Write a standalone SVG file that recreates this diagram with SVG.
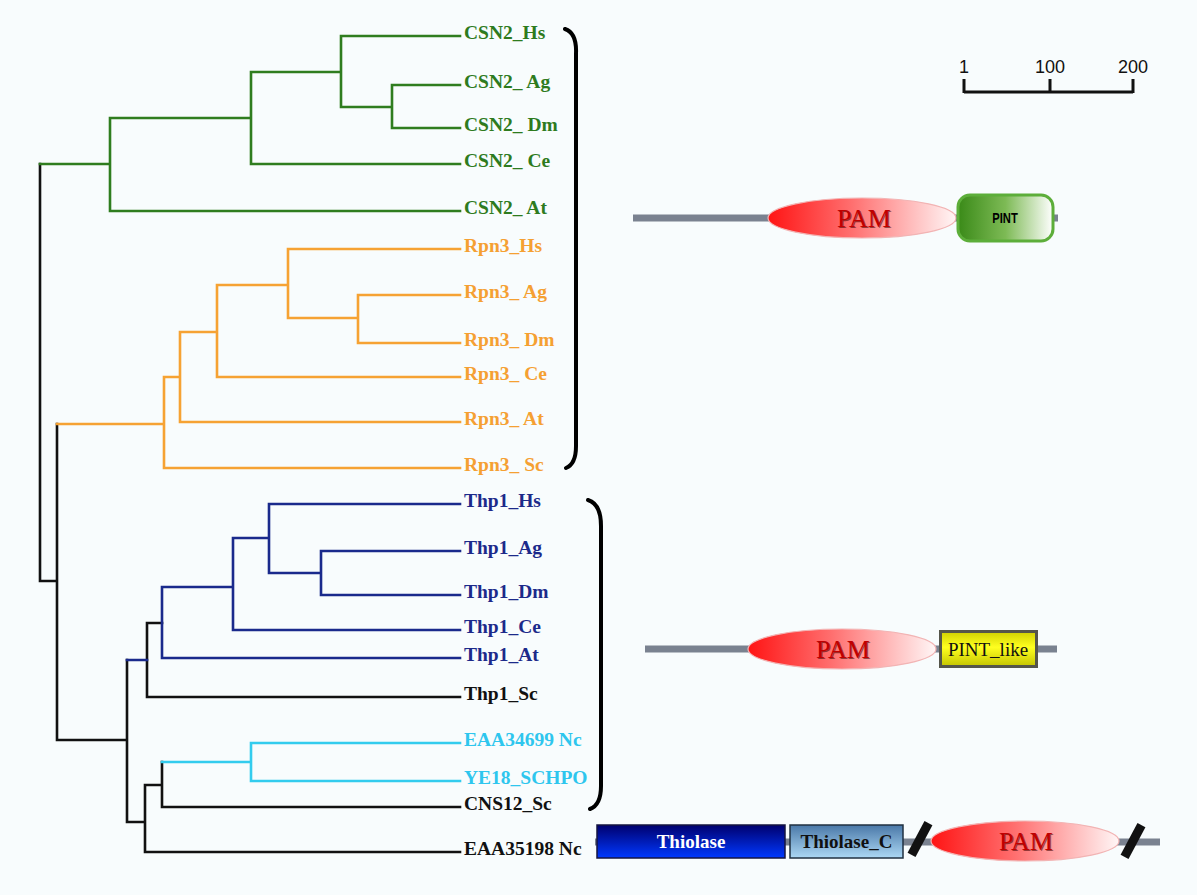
<svg xmlns="http://www.w3.org/2000/svg" width="1197" height="895" viewBox="0 0 1197 895">
<defs>
<style>
.lbl{font-family:"Liberation Serif","Times New Roman",serif;font-weight:bold;font-size:19.5px}
.g{fill:#2E7B1E}.o{fill:#F5A032}.b{fill:#1C2A8A}.c{fill:#2EC6EE}.k{fill:#111}
.t{fill:none;stroke-width:2.6;stroke-linecap:square}
.tg{stroke:#2F7D1F}.to{stroke:#F6A233}.tb{stroke:#1A2A8C}.tc{stroke:#33CCEE}.tk{stroke:#111}
.br{fill:none;stroke:#000;stroke-width:4;stroke-linecap:round}
.bar{fill:#7A8290}
.pam{stroke:#F2B4B4;stroke-width:1.2;fill:url(#pamG)}
.pamt{font-family:"Liberation Serif","Times New Roman",serif;font-size:26px;fill:#C00000;text-anchor:middle}
.pams{font-family:"Liberation Serif","Times New Roman",serif;font-size:26px;fill:#400000;opacity:0.55;text-anchor:middle}
.scl{font-family:"Liberation Sans",Arial,sans-serif;font-size:18px;fill:#111;text-anchor:middle}
.slash{fill:#111}
</style>
<linearGradient id="pamG" x1="0" y1="0" x2="1" y2="0">
<stop offset="0" stop-color="#FF1414"/><stop offset="0.45" stop-color="#FF7070"/><stop offset="1" stop-color="#FFF6F6"/>
</linearGradient>
<linearGradient id="pintG" x1="0" y1="0" x2="1" y2="0">
<stop offset="0" stop-color="#3A8A18"/><stop offset="0.5" stop-color="#7DBA55"/><stop offset="1" stop-color="#FFFFFF"/>
</linearGradient>
<linearGradient id="yelG" x1="0" y1="0" x2="0" y2="1">
<stop offset="0" stop-color="#CFCF00"/><stop offset="0.45" stop-color="#FFFF20"/><stop offset="1" stop-color="#C4C400"/>
</linearGradient>
<linearGradient id="thG" x1="0" y1="0" x2="0" y2="1">
<stop offset="0" stop-color="#00006E"/><stop offset="1" stop-color="#0038FF"/>
</linearGradient>
<linearGradient id="thcG" x1="0" y1="0" x2="0" y2="1">
<stop offset="0" stop-color="#4A78A8"/><stop offset="1" stop-color="#ACD8F4"/>
</linearGradient>
</defs>
<rect width="1197" height="895" fill="#F8FCFD"/>

<g id="connectors">
<path class="t tk" d="M40 164 V581 H57 M57 424 V740 H127 M127 660 V822 H145 M145 785 V852 H460 M145 785 H162 M162 762 V807 H460 M147 623 V697 H460 M147 623 H162"/>
<path class="t tg" d="M40 164 H110 M110 118 V211 H460 M110 118 H251 M251 72 V164 H460 M251 72 H341 M341 36 V107 M341 36 H460 M341 107 H392 M392 85 V128 M392 85 H460 M392 128 H460"/>
<path class="t to" d="M57 424 H164 M164 377 V468 H460 M164 377 H180 M180 332 V422 H460 M180 332 H217 M217 285 V377 H460 M217 285 H288 M288 249 V318 M288 249 H460 M288 318 H358 M358 295 V343 M358 295 H460 M358 343 H460"/>
<path class="t tb" d="M127 660 H147 M162 587 V658 H460 M162 587 H233 M233 538 V630 H460 M233 538 H269 M269 504 V573 M269 504 H460 M269 573 H321 M321 551 V595 M321 551 H460 M321 595 H460"/>
<path class="t tc" d="M162 762 H251 M251 743 V781 M251 743 H460 M251 781 H460"/>
</g>

<g id="labels">
<text id="n-csn2-hs" class="lbl g" x="464" y="39">CSN2_Hs</text>
<text id="n-csn2-ag" class="lbl g" x="464" y="88">CSN2_ Ag</text>
<text id="n-csn2-dm" class="lbl g" x="464" y="131">CSN2_ Dm</text>
<text id="n-csn2-ce" class="lbl g" x="464" y="167">CSN2_ Ce</text>
<text id="n-csn2-at" class="lbl g" x="464" y="214">CSN2_ At</text>
<text id="n-rpn3-hs" class="lbl o" x="464" y="252">Rpn3_Hs</text>
<text id="n-rpn3-ag" class="lbl o" x="464" y="298">Rpn3_ Ag</text>
<text id="n-rpn3-dm" class="lbl o" x="464" y="346">Rpn3_ Dm</text>
<text id="n-rpn3-ce" class="lbl o" x="464" y="380">Rpn3_ Ce</text>
<text id="n-rpn3-at" class="lbl o" x="464" y="425">Rpn3_ At</text>
<text id="n-rpn3-sc" class="lbl o" x="464" y="471">Rpn3_ Sc</text>
<text id="n-thp1-hs" class="lbl b" x="464" y="507">Thp1_Hs</text>
<text id="n-thp1-ag" class="lbl b" x="464" y="554">Thp1_Ag</text>
<text id="n-thp1-dm" class="lbl b" x="464" y="598">Thp1_Dm</text>
<text id="n-thp1-ce" class="lbl b" x="464" y="633">Thp1_Ce</text>
<text id="n-thp1-at" class="lbl b" x="464" y="661">Thp1_At</text>
<text id="n-thp1-sc" class="lbl k" x="464" y="700">Thp1_Sc</text>
<text id="n-eaa34699" class="lbl c" x="464" y="746">EAA34699 Nc</text>
<text id="n-ye18" class="lbl c" x="464" y="784">YE18_SCHPO</text>
<text id="n-cns12" class="lbl k" x="464" y="810">CNS12_Sc</text>
<text id="n-eaa35198" class="lbl k" x="464" y="855">EAA35198 Nc</text>
</g>

<g id="brackets">
<path class="br" d="M565 29 Q577 33 576 54 V446 Q576 464 566 468"/>
<path class="br" d="M588 500 Q601 504 601 526 V786 Q601 805 590 809"/>
</g>

<g id="scale">
<path d="M964 92 H1133 M964 79 V93 M1050 79 V93 M1133 79 V93" fill="none" stroke="#111" stroke-width="3"/>
<text class="scl" x="964" y="73">1</text>
<text class="scl" x="1050" y="73">100</text>
<text class="scl" x="1133" y="73">200</text>
</g>

<g id="domain-csn2">
<rect class="bar" x="633" y="214.5" width="425" height="7"/>
<ellipse class="pam" cx="862" cy="218" rx="94" ry="20"/>
<text class="pams" x="865" y="228">PAM</text>
<text class="pamt" x="864" y="227">PAM</text>
<rect x="958" y="195" width="95" height="46" rx="12" fill="url(#pintG)" stroke="#5DAE3A" stroke-width="3"/>
<text transform="translate(1005 223) scale(0.8 1)" font-family="Liberation Sans,Arial,sans-serif" font-size="14" font-weight="bold" fill="#000" text-anchor="middle">PINT</text>
</g>

<g id="domain-thp1">
<rect class="bar" x="645" y="645.5" width="412" height="7"/>
<ellipse class="pam" cx="842" cy="649" rx="94" ry="20"/>
<text class="pams" x="844" y="659">PAM</text>
<text class="pamt" x="843" y="658">PAM</text>
<rect x="940.5" y="631.5" width="96" height="35" fill="url(#yelG)" stroke="#55554A" stroke-width="3"/>
<text x="988" y="656" font-family="Liberation Serif,Times New Roman,serif" font-size="19" fill="#111" text-anchor="middle">PINT_like</text>
</g>

<g id="domain-eaa35198">
<rect class="bar" x="595" y="838.5" width="565" height="7"/>
<rect x="597" y="825" width="188" height="33" fill="url(#thG)" stroke="#141440" stroke-width="1.5"/>
<text x="691" y="848" font-family="Liberation Serif,Times New Roman,serif" font-size="19" font-weight="bold" fill="#fff" text-anchor="middle">Thiolase</text>
<rect x="790" y="825" width="113" height="33" fill="url(#thcG)" stroke="#203040" stroke-width="1.5"/>
<text x="846.5" y="848" font-family="Liberation Serif,Times New Roman,serif" font-size="19" font-weight="bold" fill="#111" text-anchor="middle">Thiolase_C</text>
<rect class="slash" x="-4.5" y="-18" width="9" height="36" transform="translate(920 839) rotate(28)"/>
<ellipse class="pam" cx="1025" cy="841" rx="94" ry="20"/>
<text class="pams" x="1027" y="851">PAM</text>
<text class="pamt" x="1026" y="850">PAM</text>
<rect class="slash" x="-4.5" y="-18" width="9" height="36" transform="translate(1133 841) rotate(28)"/>
</g>
</svg>
